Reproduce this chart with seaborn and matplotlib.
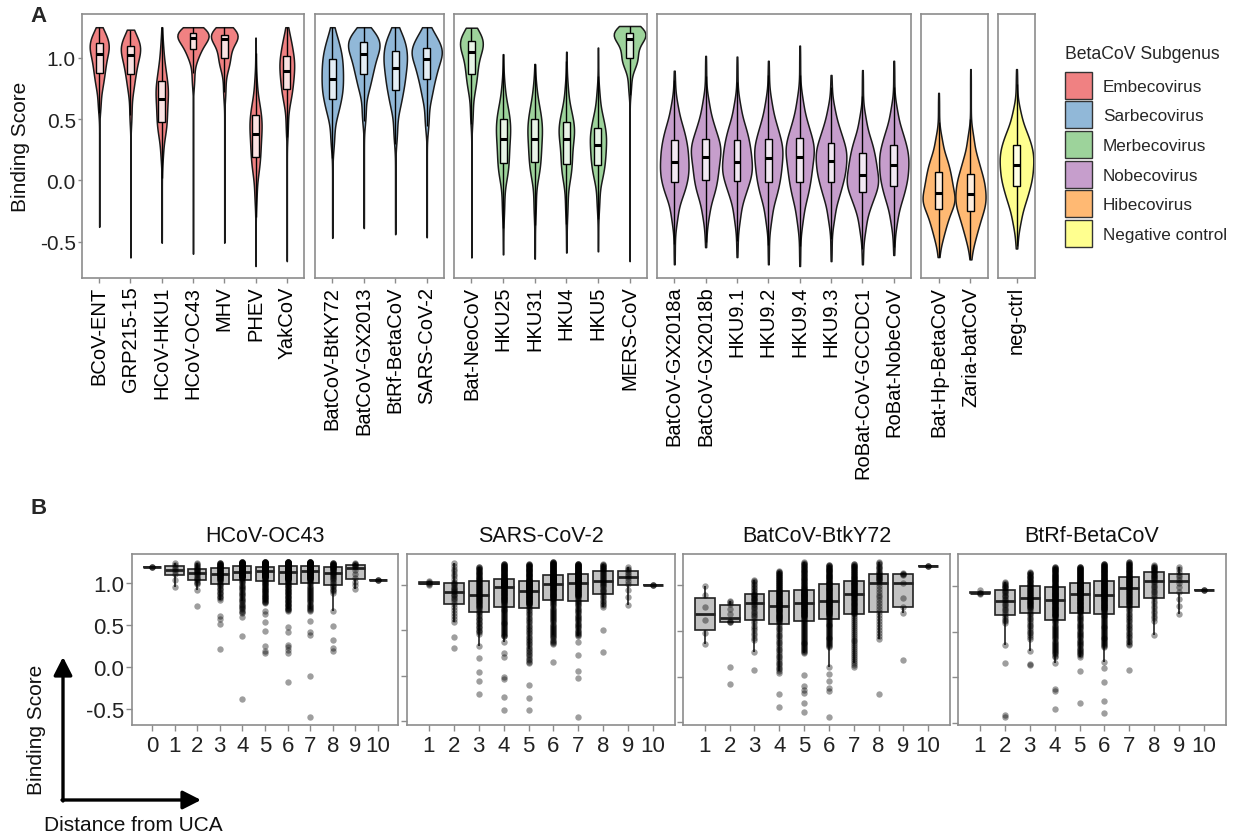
import numpy as np
import pandas as pd
import matplotlib
matplotlib.use("Agg")
import matplotlib.pyplot as plt
import seaborn as sns
from matplotlib.patches import Patch, FancyArrowPatch
from matplotlib.colors import to_rgb

sns.set_theme(style="white")
plt.rcParams["font.family"] = ["Liberation Sans", "DejaVu Sans"]

# ---------------- Panel A data (violin quantiles) ----------------
SUBGENERA = ["Embecovirus", "Sarbecovirus", "Merbecovirus", "Nobecovirus",
             "Hibecovirus", "Negative control"]
SUBGENUS_COLORS = ["#E41A1C", "#377EB8", "#4DAF4A", "#984EA3", "#FF7F00", "#FFFF33"]
GROUP_SIZES = [7, 4, 6, 8, 2, 1]

A_VIRUS = ["BCoV-ENT", "GRP215-15", "HCoV-HKU1", "HCoV-OC43", "MHV", "PHEV", "YakCoV",
           "BatCoV-BtKY72", "BatCoV-GX2013", "BtRf-BetaCoV", "SARS-CoV-2",
           "Bat-NeoCoV", "HKU25", "HKU31", "HKU4", "HKU5", "MERS-CoV",
           "BatCoV-GX2018a", "BatCoV-GX2018b", "HKU9.1", "HKU9.2", "HKU9.4", "HKU9.3",
           "RoBat-CoV-GCCDC1", "RoBat-NobeCoV",
           "Bat-Hp-BetaCoV", "Zaria-batCoV",
           "neg-ctrl"]
Q_PROBS = [0.0, 0.02, 0.10, 0.25, 0.50, 0.75, 0.90, 0.98, 1.0]
Q_MIN = [-0.38, -0.63, -0.51, -0.60, -0.51, -0.70, -0.66,
         -0.47, -0.39, -0.44, -0.465,
         -0.63, -0.605, -0.64, -0.59, -0.58, -0.66,
         -0.686, -0.546, -0.627, -0.686, -0.70, -0.66, -0.686, -0.61,
         -0.627, -0.646, -0.557]
Q02 = [0.55, 0.45, 0.15, 0.75, 0.65, -0.20, 0.35,
       0.25, 0.45, 0.30, 0.40,
       0.45, -0.30, -0.30, -0.30, -0.25, 0.70,
       -0.36, -0.33, -0.36, -0.37, -0.38, -0.36, -0.44, -0.38,
       -0.50, -0.52, -0.38]
Q10 = [0.75, 0.72, 0.36, 0.98, 0.90, 0.05, 0.62,
       0.52, 0.72, 0.58, 0.66,
       0.72, 0.00, 0.01, -0.01, 0.00, 0.93,
       -0.15, -0.14, -0.15, -0.16, -0.17, -0.16, -0.24, -0.19,
       -0.37, -0.39, -0.20]
Q25 = [0.88, 0.87, 0.48, 1.07, 1.00, 0.19, 0.746,
       0.665, 0.87, 0.74, 0.827,
       0.868, 0.138, 0.15, 0.132, 0.124, 0.995,
       -0.016, 0.0, -0.003, -0.01, -0.01, -0.01, -0.097, -0.046,
       -0.232, -0.254, -0.05]
Q50 = [1.03, 1.02, 0.665, 1.165, 1.15, 0.38, 0.895,
       0.827, 1.03, 0.916, 0.99,
       1.05, 0.34, 0.34, 0.34, 0.286, 1.157,
       0.15, 0.19, 0.15, 0.178, 0.19, 0.157, 0.043, 0.124,
       -0.105, -0.11, 0.124]
Q75 = [1.12, 1.10, 0.81, 1.20, 1.19, 0.53, 1.016,
       0.99, 1.13, 1.057, 1.084,
       1.138, 0.50, 0.497, 0.476, 0.427, 1.205,
       0.327, 0.34, 0.327, 0.34, 0.346, 0.308, 0.22, 0.286,
       0.065, 0.049, 0.286]
Q90 = [1.18, 1.16, 0.95, 1.225, 1.22, 0.65, 1.12,
       1.10, 1.19, 1.15, 1.16,
       1.19, 0.62, 0.62, 0.60, 0.55, 1.23,
       0.47, 0.49, 0.47, 0.49, 0.50, 0.45, 0.36, 0.43,
       0.20, 0.20, 0.42]
Q98 = [1.23, 1.21, 1.12, 1.245, 1.245, 0.85, 1.20,
       1.20, 1.235, 1.22, 1.23,
       1.235, 0.80, 0.78, 0.80, 0.75, 1.25,
       0.65, 0.68, 0.66, 0.68, 0.70, 0.62, 0.55, 0.62,
       0.38, 0.40, 0.60]
Q_MAX = [1.25, 1.23, 1.25, 1.25, 1.25, 1.165, 1.25,
         1.25, 1.25, 1.25, 1.25,
         1.246, 1.03, 0.95, 1.05, 1.084, 1.26,
         0.895, 1.016, 1.01, 0.976, 1.10, 0.86, 0.90, 0.976,
         0.714, 0.908, 0.908]

# ---------------- Panel B data (box summaries + outlying points) ----------------
B_TITLES = ["HCoV-OC43", "SARS-CoV-2", "BatCoV-BtkY72", "BtRf-BetaCoV"]

OC43_DIST = [0, 1, 2, 3, 4, 5, 6, 7, 8, 9, 10]
OC43_LO = [1.19, 0.95, 1.00, 0.80, 0.64, 0.76, 0.665, 0.665, 0.88, 0.93, 1.03]
OC43_Q1 = [1.19, 1.10, 1.07, 1.03, 1.06, 1.07, 1.04, 1.04, 1.04, 1.04, 1.03]
OC43_MED = [1.19, 1.157, 1.137, 1.11, 1.137, 1.145, 1.137, 1.145, 1.15, 1.18, 1.03]
OC43_Q3 = [1.19, 1.196, 1.176, 1.176, 1.196, 1.196, 1.20, 1.20, 1.20, 1.217, 1.03]
OC43_HI = [1.19, 1.24, 1.235, 1.24, 1.25, 1.25, 1.25, 1.25, 1.24, 1.23, 1.03]
OC43_N = [3, 8, 20, 60, 120, 150, 160, 120, 40, 12, 3]
OC43_OUT = [[], [], [0.98, 0.92, 0.725], [0.61, 0.57, 0.51, 0.216], [0.59, 0.37, -0.38],
            [0.665, 0.63, 0.53, 0.43, 0.245, 0.19, 0.165],
            [0.47, 0.41, 0.26, 0.23, 0.20, 0.165, -0.18],
            [0.55, 0.41, 0.38, -0.11, -0.60], [0.665, 0.49, 0.32, 0.22, 0.19], [], []]

SARS2_DIST = [1, 2, 3, 4, 5, 6, 7, 8, 9, 10]
SARS2_LO = [1.0, 0.59, 0.46, 0.43, 0.135, 0.35, 0.43, 0.753, 0.78, 1.0]
SARS2_Q1 = [1.005, 0.833, 0.753, 0.81, 0.78, 0.844, 0.87, 0.927, 1.0, 1.0]
SARS2_MED = [1.015, 0.935, 0.90, 0.99, 0.93, 1.007, 1.025, 1.05, 1.087, 1.0]
SARS2_Q3 = [1.025, 1.025, 1.044, 1.06, 1.044, 1.10, 1.12, 1.153, 1.145, 1.0]
SARS2_HI = [1.04, 1.232, 1.196, 1.23, 1.23, 1.25, 1.23, 1.225, 1.19, 1.0]
SARS2_N = [5, 30, 80, 150, 150, 170, 140, 40, 12, 3]
SARS2_OUT = [[], [0.426, 0.30], [0.33, 0.19, 0.045, -0.053, -0.20],
             [0.37, 0.25, 0.21, -0.01, -0.035, -0.23, -0.38], [-0.10, -0.24, -0.38],
             [0.15], [0.37, 0.226, 0.056, -0.03, -0.456], [0.50, 0.26], [], []]

BTKY_DIST = [1, 2, 3, 4, 5, 6, 7, 8, 9, 10]
BTKY_LO = [0.356, 0.597, 0.40, 0.04, 0.255, 0.327, 0.11, 0.417, 0.694, 1.209]
BTKY_Q1 = [0.507, 0.597, 0.658, 0.608, 0.658, 0.68, 0.687, 0.73, 0.82, 1.209]
BTKY_MED = [0.694, 0.716, 0.824, 0.784, 0.824, 0.838, 0.903, 1.047, 1.11, 1.209]
BTKY_Q3 = [0.867, 0.813, 0.91, 0.94, 0.957, 1.02, 1.047, 1.126, 1.126, 1.209]
BTKY_HI = [0.99, 0.83, 1.065, 1.16, 1.255, 1.226, 1.24, 1.26, 1.137, 1.209]
BTKY_N = [6, 8, 40, 120, 150, 140, 110, 40, 8, 3]
BTKY_OUT = [[], [0.10, -0.086], [0.273, 0.075], [-0.194, -0.338],
            [0.02, -0.10, -0.147, -0.18, -0.295, -0.39],
            [0.104, 0.03, -0.05, -0.12, -0.16, -0.446], [], [-0.194], [0.183], []]

BTRF_DIST = [1, 2, 3, 4, 5, 6, 7, 8, 9, 10]
BTRF_LO = [0.92, 0.594, 0.424, 0.227, 0.227, 0.335, 0.35, 0.62, 0.70, 0.964]
BTRF_Q1 = [0.925, 0.74, 0.755, 0.665, 0.723, 0.737, 0.784, 0.892, 0.928, 0.964]
BTRF_MED = [0.928, 0.874, 0.88, 0.856, 0.917, 0.917, 0.99, 1.072, 1.06, 0.964]
BTRF_Q3 = [0.932, 0.975, 1.007, 1.0, 1.043, 1.065, 1.108, 1.155, 1.133, 0.964]
BTRF_HI = [0.96, 1.047, 1.16, 1.216, 1.216, 1.25, 1.27, 1.234, 1.216, 0.964]
BTRF_N = [4, 30, 70, 150, 160, 160, 100, 40, 12, 3]
BTRF_OUT = [[], [0.35, 0.162, -0.42, -0.44], [0.29, 0.147, 0.14],
            [0.155, -0.126, -0.15, -0.35], [0.065, -0.284],
            [0.173, 0.10, -0.054, -0.26, -0.396], [0.083], [0.47], [], []]

# ---------------- build tidy tables ----------------
FILL_ALPHA = 0.55


def blend(c, a=FILL_ALPHA):
    r, g, b = to_rgb(c)
    return (a * r + 1 - a, a * g + 1 - a, a * b + 1 - a)


FILLS = [blend(c) for c in SUBGENUS_COLORS]

a_subgenus = np.repeat(SUBGENERA, GROUP_SIZES)
rows = []
for i, v in enumerate(A_VIRUS):
    qs = [Q_MIN[i], Q02[i], Q10[i], Q25[i], Q50[i], Q75[i], Q90[i], Q98[i], Q_MAX[i]]
    vals = np.interp(np.linspace(0, 1, 500), Q_PROBS, qs)
    rows.append(pd.DataFrame({"virus": v, "subgenus": a_subgenus[i], "score": vals}))
df_a = pd.concat(rows, ignore_index=True)


def build_b(dist, lo, q1, med, q3, hi, n, out):
    parts = []
    for k, d in enumerate(dist):
        vals = np.interp(np.linspace(0, 1, n[k]), [0, .25, .5, .75, 1],
                         [lo[k], q1[k], med[k], q3[k], hi[k]])
        vals = np.concatenate([vals, np.array(out[k], dtype=float)])
        parts.append(pd.DataFrame({"dist": str(d), "score": vals}))
    return pd.concat(parts, ignore_index=True), [str(d) for d in dist]


B_DATA = [
    build_b(OC43_DIST, OC43_LO, OC43_Q1, OC43_MED, OC43_Q3, OC43_HI, OC43_N, OC43_OUT),
    build_b(SARS2_DIST, SARS2_LO, SARS2_Q1, SARS2_MED, SARS2_Q3, SARS2_HI, SARS2_N, SARS2_OUT),
    build_b(BTKY_DIST, BTKY_LO, BTKY_Q1, BTKY_MED, BTKY_Q3, BTKY_HI, BTKY_N, BTKY_OUT),
    build_b(BTRF_DIST, BTRF_LO, BTRF_Q1, BTRF_MED, BTRF_Q3, BTRF_HI, BTRF_N, BTRF_OUT),
]

# ---------------- figure ----------------
W, H = 1241, 837
fig = plt.figure(figsize=(W / 100, H / 100), dpi=100)


def rect(l, t, r, b):
    return [l / W, 1 - b / H, (r - l) / W, (b - t) / H]


BORDER = "#8c8c8c"
YTICKS = [-0.5, 0.0, 0.5, 1.0]
YTICKLABELS = ["-0.5", "0.0", "0.5", "1.0"]


def style_axes(ax):
    for s in ax.spines.values():
        s.set_color(BORDER)
        s.set_linewidth(1.2)
    ax.set_xlabel("")
    ax.set_ylabel("")


def expand(vals, f=0.05):
    lo, hi = float(np.min(vals)), float(np.max(vals))
    r = hi - lo
    return lo - f * r, hi + f * r


A_RECTS = [(82, 15, 304, 279), (315, 15, 444, 279), (454, 15, 647, 279),
           (657, 15, 911, 279), (921, 15, 988, 279), (998, 15, 1035, 279)]
ylim_a = expand(df_a["score"])
for i, sg in enumerate(SUBGENERA):
    ax = fig.add_axes(rect(*A_RECTS[i]))
    sub = df_a[df_a["subgenus"] == sg]
    order = [v for v, g in zip(A_VIRUS, a_subgenus) if g == sg]
    sns.violinplot(data=sub, x="virus", y="score", order=order, color=FILLS[i],
                   saturation=1, inner=None, density_norm="area", cut=0,
                   bw_method="silverman", width=1.0, linewidth=1.1,
                   linecolor="#1a1a1a", ax=ax)
    sns.boxplot(data=sub, x="virus", y="score", order=order, color="white",
                saturation=1, width=0.22, showfliers=False, showcaps=False,
                linewidth=1.0, linecolor="black", medianprops={"linewidth": 2.2}, ax=ax)
    for p in ax.patches:
        p.set_facecolor((1, 1, 1, 0.78))
    ax.set_xlim(-0.55, len(order) - 0.45)
    ax.set_ylim(*ylim_a)
    style_axes(ax)
    ax.tick_params(axis="x", length=3.5, width=1, color=BORDER, pad=2,
                   labelsize=14.5, labelcolor="black", labelrotation=90, bottom=True)
    if i == 0:
        ax.set_yticks(YTICKS, YTICKLABELS)
        ax.tick_params(axis="y", length=3, width=1, color=BORDER, pad=1.5,
                       labelsize=15, labelcolor="#222222", left=True)
    else:
        ax.set_yticks([])

fig.text(21 / W, 1 - 147 / H, "Binding Score", rotation=90, ha="center", va="center",
         fontsize=15, color="#111111")

handles = [Patch(facecolor=FILLS[i], edgecolor="#333333", linewidth=1.0)
           for i in range(len(SUBGENERA))]
leg = fig.legend(handles, SUBGENERA, title="BetaCoV Subgenus", loc="upper left",
                 bbox_to_anchor=(1065 / W, 1 - 46 / H), frameon=False, fontsize=12.3,
                 title_fontsize=12.7, handlelength=1.58, handleheight=2.05,
                 labelspacing=0.16, handletextpad=0.65, alignment="left",
                 borderpad=0, borderaxespad=0)
try:
    leg._legend_box.sep = 7.0  # gap between legend title and keys
except Exception:
    pass

B_RECTS = [(132, 555, 398, 726), (407, 555, 675, 726), (683, 555, 950, 726),
           (958, 555, 1226, 726)]
for j, (dfb, order) in enumerate(B_DATA):
    ax = fig.add_axes(rect(*B_RECTS[j]))
    sns.boxplot(data=dfb, x="dist", y="score", order=order, color="#c2c2c2",
                saturation=1, width=0.8, showfliers=False, showcaps=False,
                linewidth=1.2, linecolor="#222222", medianprops={"linewidth": 2.0}, ax=ax)
    sns.stripplot(data=dfb, x="dist", y="score", order=order, jitter=False,
                  color="black", alpha=0.38, size=4.6, linewidth=0, ax=ax)
    ax.set_xlim(-0.88, len(order) - 0.12)
    ax.set_ylim(*expand(dfb["score"]))
    style_axes(ax)
    ax.set_title(B_TITLES[j], fontsize=15.5, pad=9, color="#111111")
    ax.tick_params(axis="x", length=4, width=1, color=BORDER, pad=3,
                   labelsize=16, labelcolor="#222222", bottom=True)
    ax.set_yticks(YTICKS, YTICKLABELS if j == 0 else [])
    ax.tick_params(axis="y", length=4, width=1, color=BORDER, pad=1.5,
                   labelsize=16, labelcolor="#222222", left=True)

# axis-direction arrows for panel B
arrow_kw = dict(transform=fig.transFigure, arrowstyle="-|>,head_length=0.55,head_width=0.28",
                mutation_scale=20, linewidth=2.4, color="black", shrinkA=0, shrinkB=0)
fig.add_artist(FancyArrowPatch((63 / W, 1 - 802 / H), (63 / W, 1 - 658 / H), **arrow_kw))
fig.add_artist(FancyArrowPatch((62 / W, 1 - 801 / H), (201 / W, 1 - 801 / H), **arrow_kw))
fig.text(37 / W, 1 - 730 / H, "Binding Score", rotation=90, ha="center", va="center",
         fontsize=15, color="#111111")
fig.text(133 / W, 1 - 826 / H, "Distance from UCA", ha="center", va="center",
         fontsize=15, color="#111111")

fig.text(30 / W, 1 - 16 / H, "A", fontsize=16, fontweight="bold", va="center", ha="left")
fig.text(30 / W, 1 - 508 / H, "B", fontsize=16, fontweight="bold", va="center", ha="left")

fig.savefig("out.png", dpi=100)
